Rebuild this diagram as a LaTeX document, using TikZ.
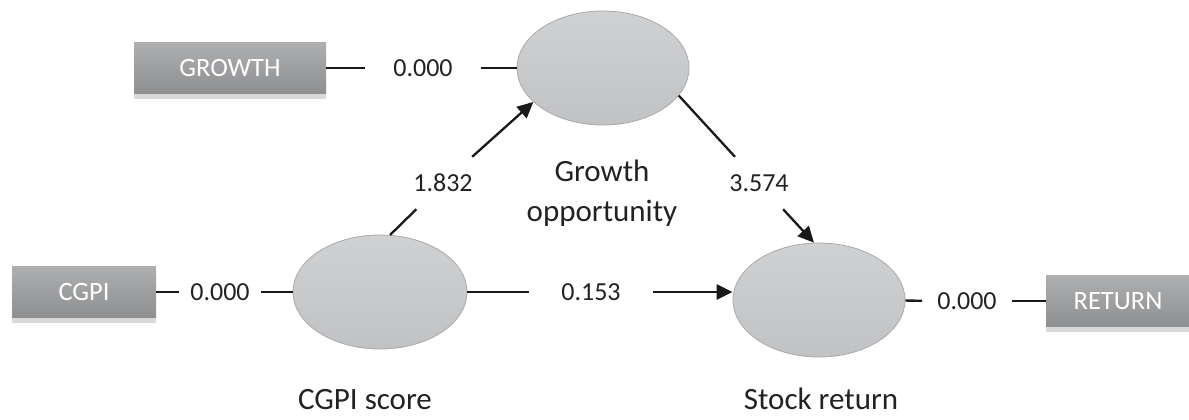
\documentclass[tikz,border=0pt]{standalone}
\usepackage{fontspec}
\setmainfont{Carlito}
\usetikzlibrary{arrows.meta,shapes.geometric,shadows}

\definecolor{boxtop}{HTML}{AEAFB1}
\definecolor{boxbottom}{HTML}{8E8F91}
\definecolor{latenttop}{HTML}{D0D1D3}
\definecolor{latentbottom}{HTML}{C1C2C4}
\definecolor{latentedge}{HTML}{A8A9AB}
\definecolor{coeftext}{HTML}{222222}

\tikzset{
	indicator/.style={rectangle, minimum height=51pt, top color=boxtop, bottom color=boxbottom, text=white, font=\fontsize{26.5}{31}\selectfont, drop shadow={shadow xshift=0pt, shadow yshift=-5pt, opacity=0.3}},
	latent/.style={ellipse, minimum width=172pt, minimum height=114pt, inner sep=0pt, draw=latentedge, line width=0.8pt, top color=latenttop, bottom color=latentbottom},
	coef/.style={text=coeftext, font=\fontsize{26}{31}\selectfont, inner ysep=2pt},
	caption/.style={text=coeftext, font=\fontsize{31}{40}\selectfont, inner sep=1pt},
	link/.style={line width=2.3pt, color=black!90},
	effect/.style={link, -{Triangle[length=16pt, width=15pt]}},
}

\begin{document}
\begin{tikzpicture}[x=1pt, y=-1pt]
		%%%%% START %%%%%
		
		\useasboundingbox (0, 0) rectangle (1189, 420);
		
		\node[indicator, minimum width=192pt] (growth) at (230, 68) {GROWTH};
		\node[indicator, minimum width=144pt] (cgpi) at (84, 292) {CGPI};
		\node[indicator, minimum width=144pt] (ret) at (1118, 301) {RETURN};
		
		\node[latent] (gopp) at (603, 68) {};
		\node[latent, minimum width=174pt] (cgpis) at (380, 292) {};
		\node[latent] (sret) at (819, 300) {};
		
		\node[caption, align=center] (goppname) at (602, 193) {Growth\\opportunity};
		\node[caption] (cgpisname) at (365, 400) {CGPI score};
		\node[caption] (sretname) at (821, 399) {Stock return};
		
		\node[coef, inner xsep=28pt] (c0) at (423, 68) {0.000};
		\node[coef, inner xsep=11pt] (c1) at (220, 292) {0.000};
		\node[coef, minimum height=52pt] (c2) at (443, 183) {1.832};
		\node[coef, inner xsep=32pt] (c3) at (591, 292) {0.153};
		\node[coef, inner xsep=15pt] (c4) at (967, 301) {0.000};
		\node[coef, minimum height=52pt] (c5) at (759, 183) {3.574};
		
		\draw[link] (growth) -- (c0);
		\draw[link] (c0) -- (gopp);
		\draw[link] (cgpi) -- (c1);
		\draw[link] (c1) -- (cgpis);
		
		\draw[link] (cgpis.80) -- (c2);
		\draw[effect] (c2) -- (gopp.206);
		\draw[link] (gopp.-20) -- (c5);
		\draw[effect] (c5) -- (sret.95);
		
		\draw[link] (cgpis) -- (c3);
		\draw[effect] (c3) -- (c3 -| sret.west);
		\draw[link] (sret) -- (c4);
		\draw[link] (c4) -- (ret);
		
		%%%%% END %%%%%
\end{tikzpicture}
\end{document}
